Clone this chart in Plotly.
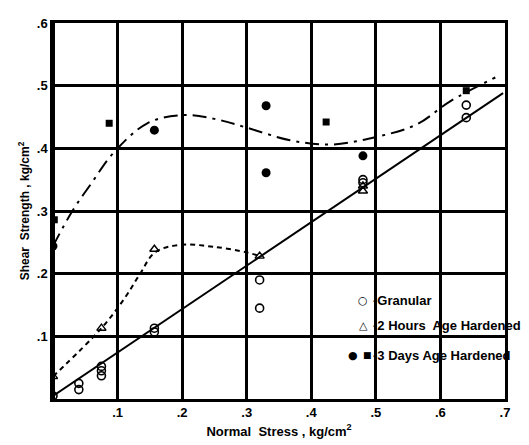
import plotly.graph_objects as go

# ---- data ----
granular_x = [0.0, 0.04, 0.04, 0.075, 0.075, 0.075, 0.157, 0.157, 0.32, 0.32, 0.48, 0.48, 0.64, 0.64]
granular_y = [0.005, 0.025, 0.015, 0.052, 0.045, 0.037, 0.113, 0.107, 0.19, 0.145, 0.35, 0.345, 0.469, 0.449]

hours2_x = [0.0, 0.075, 0.157, 0.32, 0.48, 0.48]
hours2_y = [0.036, 0.113, 0.239, 0.228, 0.34, 0.332]

days3_circ_x = [0.0, 0.157, 0.33, 0.33, 0.48]
days3_circ_y = [0.244, 0.429, 0.468, 0.361, 0.388]

days3_sq_x = [0.002, 0.087, 0.423, 0.64]
days3_sq_y = [0.286, 0.44, 0.442, 0.492]

# fitted curves
granular_fit_x = [0.0, 0.697]
granular_fit_y = [0.005, 0.488]

hours2_fit_x = [0.0, 0.075, 0.111, 0.135, 0.158, 0.197, 0.248, 0.30, 0.32]
hours2_fit_y = [0.036, 0.113, 0.161, 0.200, 0.234, 0.246, 0.243, 0.234, 0.228]

days3_fit_x = [0.0, 0.03, 0.06, 0.093, 0.146, 0.20, 0.25, 0.30, 0.367, 0.43, 0.50, 0.563, 0.615, 0.685]
days3_fit_y = [0.244, 0.30, 0.345, 0.392, 0.440, 0.453, 0.447, 0.433, 0.413, 0.406, 0.418, 0.438, 0.475, 0.513]

x_ticks = [0.1, 0.2, 0.3, 0.4, 0.5, 0.6, 0.7]
x_labels = [".1", ".2", ".3", ".4", ".5", ".6", ".7"]
y_ticks = [0.1, 0.2, 0.3, 0.4, 0.5, 0.6]
y_labels = [".1", ".2", ".3", ".4", ".5", ".6"]

legend_symbols = [["○"], ["△"], ["●", "■"]]
legend_texts = ["-Granular", "-2 Hours  Age Hardened", "-3 Days Age Hardened"]

FONT = "Liberation Sans, Arial, sans-serif"

fig = go.Figure()

fig.add_trace(go.Scatter(x=granular_fit_x, y=granular_fit_y, mode="lines",
                         line=dict(color="black", width=2), hoverinfo="skip"))
fig.add_trace(go.Scatter(x=hours2_fit_x, y=hours2_fit_y, mode="lines",
                         line=dict(color="black", width=2, dash="5px,4px", shape="spline"),
                         hoverinfo="skip"))
fig.add_trace(go.Scatter(x=days3_fit_x, y=days3_fit_y, mode="lines",
                         line=dict(color="black", width=2, dash="14px,6px,3px,6px", shape="spline"),
                         hoverinfo="skip"))

fig.add_trace(go.Scatter(x=granular_x, y=granular_y, mode="markers",
                         marker=dict(symbol="circle-open", size=8, color="black",
                                     line=dict(width=1.6, color="black"))))
fig.add_trace(go.Scatter(x=hours2_x, y=hours2_y, mode="markers",
                         marker=dict(symbol="triangle-up-open", size=8, color="black",
                                     line=dict(width=1.4, color="black"))))
fig.add_trace(go.Scatter(x=days3_circ_x, y=days3_circ_y, mode="markers",
                         marker=dict(symbol="circle", size=9, color="black")))
fig.add_trace(go.Scatter(x=days3_sq_x, y=days3_sq_y, mode="markers",
                         marker=dict(symbol="square", size=7, color="black")))

axis_common = dict(
    showgrid=True, gridcolor="black", gridwidth=2.5,
    showline=True, linecolor="black", linewidth=2.5, mirror=True,
    zeroline=False, ticks="", automargin=True,
    tickfont=dict(family=FONT, size=13, color="black", weight="bold"),
)

fig.update_xaxes(range=[0, 0.7], tickvals=x_ticks, ticktext=x_labels,
                 title=dict(text="Normal  Stress , kg/cm<sup>2</sup>",
                            font=dict(family=FONT, size=13, color="black", weight="bold"),
                            standoff=8),
                 **axis_common)
fig.update_yaxes(range=[0, 0.6], tickvals=y_ticks, ticktext=y_labels,
                 title=dict(text="Shear  Strength , kg/cm<sup>2</sup>",
                            font=dict(family=FONT, size=12, color="black", weight="bold"),
                            standoff=5),
                 **axis_common)

# thicker left axis
fig.add_shape(type="line", xref="paper", yref="paper", x0=0, x1=0, y0=0, y1=1,
              line=dict(color="black", width=4))

sym_x = [[0.686], [0.686], [0.664, 0.695]]
sym_size = [[11], [11], [11, 9]]
txt_x = [0.703, 0.703, 0.703]
row_y = [0.263, 0.195, 0.117]
for syms, t, sxs, szs, tx, ry in zip(legend_symbols, legend_texts, sym_x, sym_size, txt_x, row_y):
    for s, sx, sz in zip(syms, sxs, szs):
        fig.add_annotation(x=sx, y=ry, xref="paper", yref="paper", text=s, showarrow=False,
                           xanchor="center", yanchor="middle",
                           font=dict(family="DejaVu Sans", size=sz, color="black"))
    fig.add_annotation(x=tx, y=ry, xref="paper", yref="paper", text=t, showarrow=False,
                       xanchor="left", yanchor="middle",
                       font=dict(family=FONT, size=13, color="black", weight="bold"))

# the page shows the figure with an 8px body offset, so the figure is sized to fit
fig.update_layout(
    width=521, height=437,
    margin=dict(l=45, r=24, t=8, b=45),
    paper_bgcolor="white", plot_bgcolor="white",
    showlegend=False,
)

fig.write_html("out.html")
